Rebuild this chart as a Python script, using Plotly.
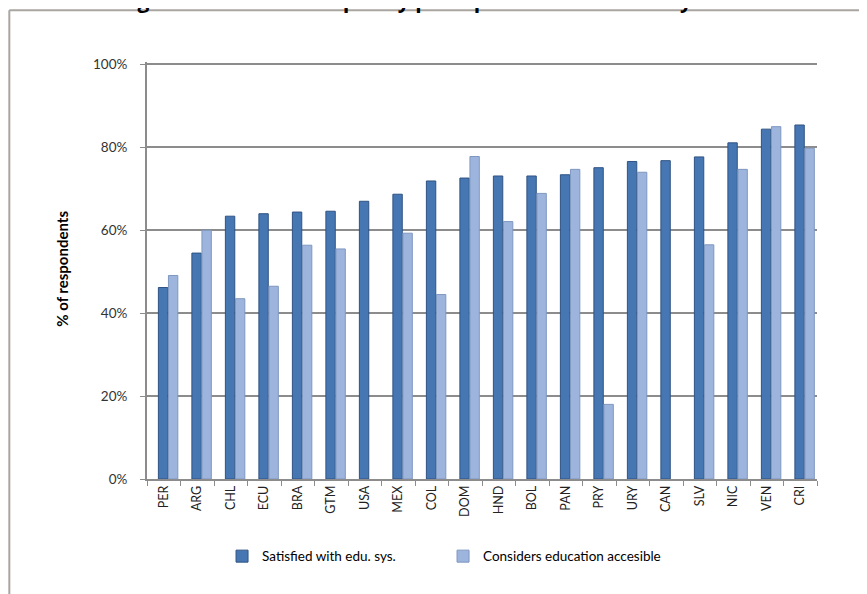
import plotly.graph_objects as go

countries = ["PER", "ARG", "CHL", "ECU", "BRA", "GTM", "USA", "MEX", "COL", "DOM",
             "HND", "BOL", "PAN", "PRY", "URY", "CAN", "SLV", "NIC", "VEN", "CRI"]
satisfied = [46.2, 54.5, 63.4, 64.0, 64.4, 64.6, 67.0, 68.7, 71.9, 72.6,
             73.1, 73.1, 73.4, 75.1, 76.6, 76.8, 77.7, 81.1, 84.4, 85.4]
accessible = [49.1, 60.0, 43.5, 46.5, 56.4, 55.5, None, 59.3, 44.5, 77.8,
              62.1, 68.9, 74.7, 18.0, 74.0, None, 56.5, 74.7, 85.0, 79.8]
y_ticks = [0, 20, 40, 60, 80, 100]
y_labels = ["0%", "20%", "40%", "60%", "80%", "100%"]

font = "Lato, 'Liberation Sans', sans-serif"

fig = go.Figure()
fig.add_trace(go.Bar(
    x=countries, y=satisfied, name="Satisfied with edu. sys.",
    offset=-0.16, width=0.28,
    marker=dict(color="#4677B2", line=dict(color="#2F5384", width=1)),
))
fig.add_trace(go.Bar(
    x=countries, y=accessible, name="Considers education accesible",
    offset=0.14, width=0.28,
    marker=dict(color="#9DB5DD", line=dict(color="#7F97C0", width=1)),
))

# outer chart frame: only its top and left edges fall inside the window
frame = dict(color="#A9A5A1", width=2)
fig.add_shape(type="line", xref="paper", yref="paper",
              x0=-0.2055, x1=1.2, y0=1.124, y1=1.124, line=frame)
fig.add_shape(type="line", xref="paper", yref="paper",
              x0=-0.2055, x1=-0.2055, y0=1.124, y1=-0.4, line=frame)

fig.add_annotation(text="<b>% of respondents</b>", textangle=-90,
                   xref="paper", yref="paper", x=-0.127, y=0.504,
                   xanchor="center", yanchor="middle",
                   showarrow=False, font=dict(size=15, color="#000000"))

fig.update_layout(
    width=859, height=586,
    margin=dict(l=139, r=50, t=54, b=115),
    paper_bgcolor="white", plot_bgcolor="white",
    barmode="overlay",
    font=dict(family=font, size=12, color="#000000"),
    title=dict(text="<b>Figure 11: Education quality perception - LAPOP survey</b>",
               x=0.463, xanchor="center", xref="container",
               y=1.0, yanchor="bottom", yref="container",
               pad=dict(t=0, b=0, l=0, r=0),
               font=dict(size=21, family="'Open Sans', sans-serif")),
    legend=dict(orientation="h", x=0.112, xanchor="left", y=-0.1855, yanchor="middle",
                entrywidth=176, entrywidthmode="pixels",
                font=dict(size=13.5, color="#000000")),
    xaxis=dict(tickangle=-90, tickfont=dict(size=12.5, color="#222222"), showline=True,
               linecolor="#8C8C8C", linewidth=1.5, ticks="outside",
               tickson="boundaries", tickcolor="#8C8C8C", ticklen=5,
               range=[-0.5, 19.5]),
    yaxis=dict(range=[0, 100.6], tickmode="array", tickvals=y_ticks, ticktext=y_labels,
               showgrid=True, gridcolor="#8C8C8C", gridwidth=2, showline=True,
               linecolor="#8C8C8C", linewidth=2, ticks="outside",
               tickcolor="#8C8C8C", ticklen=5, ticklabelstandoff=10,
               tickfont=dict(size=13.5, color="#333333"),
               zeroline=False),
)

fig.write_html("out.html")
